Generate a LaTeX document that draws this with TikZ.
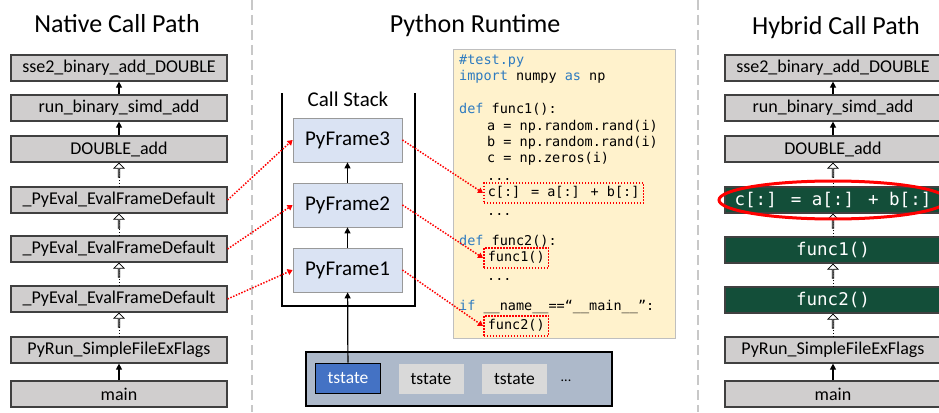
\documentclass[tikz,border=0pt]{standalone}
\usepackage{fontspec}
\setmainfont{Carlito}
\newfontfamily\codefont{DejaVu Sans Mono}
\usetikzlibrary{arrows.meta}
\usetikzlibrary{shapes.arrows}
\definecolor{boxgray}{HTML}{D0CECE}
\definecolor{hybgreen}{HTML}{134E39}
\definecolor{frameblue}{HTML}{DAE3F3}
\definecolor{codeyellow}{HTML}{FFF2CC}
\definecolor{kwblue}{HTML}{2E7BC0}
\definecolor{barblue}{HTML}{ADB9CA}
\definecolor{tsblue}{HTML}{4472C4}
\definecolor{sepgray}{HTML}{C8C8C8}

\begin{document}
\begin{tikzpicture}
[x=1pt,y=-1pt,%
  fn/.style={draw=black!75,line width=1.2pt,fill=boxgray,minimum width=216pt,minimum height=26pt,inner sep=0pt,font=\fontsize{18}{20}\selectfont},%
  hy/.style={fn,fill=hybgreen,text=white,font=\codefont\fontsize{17.5}{20}\selectfont},%
  title/.style={anchor=base,font=\fontsize{26}{30}\selectfont},%
  pyframe/.style={draw=black!40,line width=0.8pt,fill=frameblue,minimum width=109pt,minimum height=44pt,font=\fontsize{21}{24}\selectfont},%
  tst/.style={fill=black!15,minimum width=65pt,minimum height=30pt,inner sep=0pt,font=\fontsize{17.5}{20}\selectfont},%
  code/.style={anchor=west,inner sep=2pt,text height=10pt,text depth=3pt,font=\codefont\fontsize{13.5}{16}\selectfont},%
  hlbox/.style={draw=red,dash pattern=on 1.5pt off 1.5pt,line width=1.5pt,inner xsep=4pt,inner ysep=3.5pt},%
  call/.style={-{Triangle[width=6pt,length=6pt]},line width=1.2pt},%
  redcall/.style={red,dash pattern=on 1.5pt off 1.5pt,line width=1.5pt,-{Triangle[width=6pt,length=5pt]}},%
  upcall/.style={dotted,line width=0.8pt},%
  hollow/.style={shape=single arrow,draw=black,fill=white,line width=0.8pt,minimum width=10pt,minimum height=14pt,single arrow head extend=2.5pt,inner sep=0pt,rotate=90,anchor=tip},%
  sep/.style={sepgray,line width=2.5pt,dash pattern=on 10pt off 5pt}]
\useasboundingbox (0,0) rectangle (939,412);
\clip (0,0) rectangle (939,412);

\draw[sep] (252,0) -- (252,412);
\draw[sep] (698,0) -- (698,412);

\node[title] at (117,33) {Native Call Path};
\node[title] at (475,33) {Python Runtime};
\node[title] at (836,35) {Hybrid Call Path};

% native call path
\node[fn] (n1) at (119,68) {sse2\_binary\_add\_DOUBLE};
\node[fn] (n2) at (119,108) {run\_binary\_simd\_add};
\node[fn] (n3) at (119,149) {DOUBLE\_add};
\node[fn] (n4) at (119,200) {\_PyEval\_EvalFrameDefault};
\node[fn] (n5) at (119,249) {\_PyEval\_EvalFrameDefault};
\node[fn] (n6) at (119,299) {\_PyEval\_EvalFrameDefault};
\node[fn] (n7) at (119,350) {PyRun\_SimpleFileExFlags};
\node[fn] (n8) at (119,394) {main};
\draw[call] (n2) -- (n1);
\draw[call] (n3) -- (n2);
\draw[upcall] (n4) -- (n3);
\node[hollow] at (n3.south) {};
\draw[upcall] (n5) -- (n4);
\node[hollow] at (n4.south) {};
\draw[upcall] (n6) -- (n5);
\node[hollow] at (n5.south) {};
\draw[upcall] (n7) -- (n6);
\node[hollow] at (n6.south) {};
\draw[call] (n8) -- (n7);

% call stack
\draw[line width=1.8pt] (282,93) |- (415,306) -- (415,93);
\node[font=\fontsize{21}{24}\selectfont] (stack) at (348,99) {Call Stack};
\node[pyframe] (f3) at (347.5,140) {PyFrame3};
\node[pyframe] (f2) at (347.5,205) {PyFrame2};
\node[pyframe] (f1) at (347.5,270) {PyFrame1};
\draw[call] (f1) -- (f2);
\draw[call] (f2) -- (f3);

% thread states
\node[draw=black,line width=1.5pt,fill=barblue,minimum width=306pt,minimum height=54pt] (bar) at (459,379) {};
\node[tst,draw=black,line width=1.8pt,fill=tsblue,text=white] (ts1) at (348,378.5) {tstate};
\node[tst] (ts2) at (431,379) {tstate};
\node[tst] (ts3) at (514.5,379) {tstate};
\node[font=\fontsize{14}{16}\selectfont] (more) at (566,381) {...};
\draw[call] (ts1) -- (f1);

% test.py
\node[draw=black!25,fill=codeyellow,minimum width=222pt,minimum height=289pt] (src) at (564,193.5) {};
\node[code,text=kwblue] at (457,61) {\#test.py};
\node[code] at (457,77) {\textcolor{kwblue}{import} numpy \textcolor{kwblue}{as} np};
\node[code] at (457,110) {\textcolor{kwblue}{def} func1():};
\node[code] at (485,127) {a = np.random.rand(i)};
\node[code] at (485,143) {b = np.random.rand(i)};
\node[code] at (485,159) {c = np.zeros(i)};
\node[code] at (485,177) {...};
\node[code,hlbox] (cline) at (483,193) {c[:] = a[:] + b[:]};
\node[code] at (485,212) {...};
\node[code] at (457,242) {\textcolor{kwblue}{def} func2():};
\node[code,hlbox] (f1line) at (483,258) {func1()};
\node[code] at (485,277) {...};
\node[code] at (457,307) {\textcolor{kwblue}{if} \_\_name\_\_==“\_\_main\_\_”:};
\node[code,hlbox] (f2line) at (483,326) {func2()};

\draw[redcall] (n4.east) -- (f3.west);
\draw[redcall] (n5.east) -- (f2.west);
\draw[redcall] (n6.east) -- (f1.west);
\draw[redcall] (f3.east) -- (cline.west);
\draw[redcall] (f2.east) -- (f1line.west);
\draw[redcall] (f1.east) -- (f2line.west);

% hybrid call path
\node[fn] (h1) at (833,68) {sse2\_binary\_add\_DOUBLE};
\node[fn] (h2) at (833,108) {run\_binary\_simd\_add};
\node[fn] (h3) at (833,149) {DOUBLE\_add};
\node[hy] (h4) at (833,200) {c[:] = a[:] + b[:]};
\node[hy] (h5) at (833,250) {func1()};
\node[hy] (h6) at (833,300) {func2()};
\node[fn] (h7) at (833,350) {PyRun\_SimpleFileExFlags};
\node[fn] (h8) at (833,394) {main};
\draw[call] (h2) -- (h1);
\draw[call] (h3) -- (h2);
\draw[upcall] (h4) -- (h3);
\node[hollow] at (h3.south) {};
\draw[upcall] (h5) -- (h4);
\node[hollow] at (h4.south) {};
\draw[upcall] (h6) -- (h5);
\node[hollow] at (h5.south) {};
\draw[upcall] (h7) -- (h6);
\node[hollow] at (h6.south) {};
\draw[call] (h8) -- (h7);
\draw[red,line width=3pt] (h4) ellipse [x radius=114pt,y radius=19pt];
\end{tikzpicture}
\end{document}
